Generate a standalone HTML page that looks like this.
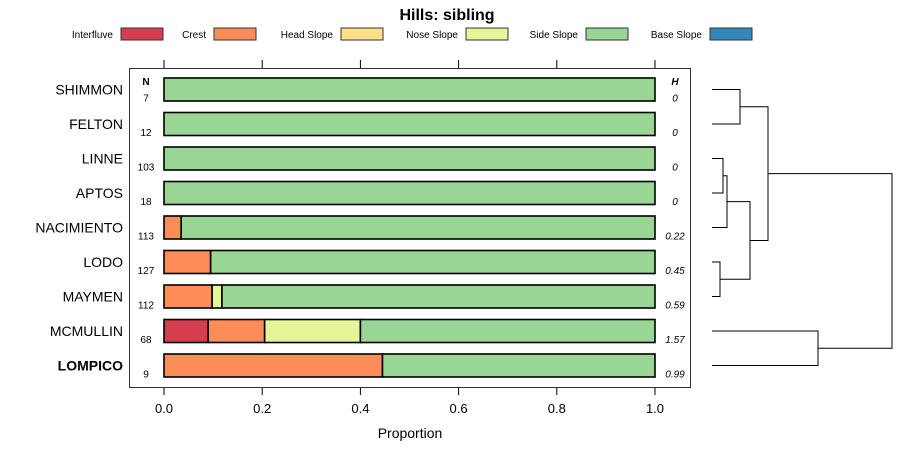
<!DOCTYPE html>
<html><head><meta charset="utf-8"><style>
body{margin:0;background:#fff;font-family:"Liberation Sans",sans-serif}
svg text{font-family:"Liberation Sans",sans-serif}
</style></head><body>
<svg id="c" width="900" height="460" xmlns="http://www.w3.org/2000/svg">
<text x="447" y="20" text-anchor="middle" font-size="16" font-weight="bold">Hills: sibling</text>
<g id="legend"></g>
<rect x="129.5" y="68.5" width="561" height="319" fill="none" stroke="#333"/>
<g id="bars"></g>
<g id="axis"></g>
<text x="410" y="438" text-anchor="middle" font-size="14">Proportion</text>
<text x="146" y="85" text-anchor="middle" font-size="10" font-weight="bold">N</text>
<text x="675" y="85" text-anchor="middle" font-size="10" font-weight="bold" font-style="italic">H</text>
<g id="dendro" stroke="#000" fill="none" stroke-width="1"></g>
</svg>
<script>
const legendNames=["Interfluve","Crest","Head Slope","Nose Slope","Side Slope","Base Slope"];
const colors=["#D53E4F","#FC8D59","#FEE08B","#E6F598","#99D594","#3288BD"];
const hills=["SHIMMON","FELTON","LINNE","APTOS","NACIMIENTO","LODO","MAYMEN","MCMULLIN","LOMPICO"];
const nVals=[7,12,103,18,113,127,112,68,9];
const hVals=["0","0","0","0","0.22","0.45","0.59","1.57","0.99"];
const interfluve=[0,0,0,0,0,0,0,0.09,0];
const crest=[0,0,0,0,0.035,0.095,0.098,0.115,0.445];
const headSlope=[0,0,0,0,0,0,0,0,0];
const noseSlope=[0,0,0,0,0,0,0.02,0.195,0];
const baseSlope=[0,0,0,0,0,0,0,0,0];
const ticks=[0,0.2,0.4,0.6,0.8,1.0];
const tickLabels=["0.0","0.2","0.4","0.6","0.8","1.0"];
const NS="http://www.w3.org/2000/svg";
function mk(t,a,p){const e=document.createElementNS(NS,t);for(const k in a)e.setAttribute(k,a[k]);p.appendChild(e);return e;}
const xs=v=>164+v*491;
const ys=i=>89.5+i*34.5;
// legend
const lg=document.getElementById('legend');
const lx=[163,256,383,508,628,752];
legendNames.forEach((n,i)=>{
 const t=mk('text',{x:lx[i]-50,y:38,'text-anchor':'end','font-size':10},lg);t.textContent=n;
 
 const r=mk('rect',{x:lx[i]-42,y:28,width:42,height:12,fill:colors[i],stroke:'#333'},lg);
 
});
// bars
const bg=document.getElementById('bars');
hills.forEach((h,i)=>{
 const y=ys(i);
 const side=1-interfluve[i]-crest[i]-headSlope[i]-noseSlope[i]-baseSlope[i];
 const vals=[interfluve[i],crest[i],headSlope[i],noseSlope[i],side,baseSlope[i]];
 let acc=0;
 vals.forEach((v,k)=>{ if(v<=0)return;
  const r=mk('rect',{x:xs(acc),y:y-11.5,width:xs(acc+v)-xs(acc),height:23,fill:colors[k],stroke:'#000','stroke-width':1.6},bg);
  
  acc+=v;});
 const l=mk('text',{x:123,y:y+5,'text-anchor':'end','font-size':14,'font-weight':h==='LOMPICO'?'bold':'normal'},bg);l.textContent=h;
 
 const n=mk('text',{x:146,y:y+12,'text-anchor':'middle','font-size':10},bg);n.textContent=nVals[i];
 
 const hv=mk('text',{x:675,y:y+12,'text-anchor':'middle','font-size':10,'font-style':'italic'},bg);hv.textContent=hVals[i];
 
});
// axis
const ax=document.getElementById('axis');
ticks.forEach((t,i)=>{
 mk('line',{x1:xs(t),x2:xs(t),y1:60,y2:68,stroke:'#000'},ax);
 mk('line',{x1:xs(t),x2:xs(t),y1:388,y2:395,stroke:'#000'},ax);
 const tx=mk('text',{x:xs(t),y:413,'text-anchor':'middle','font-size':13},ax);tx.textContent=tickLabels[i];
 
});
// dendrogram
const dg=document.getElementById('dendro');
const L=712;
function link(y1,x1,y2,x2,xm){mk('path',{d:`M${x1},${y1}H${xm}V${y2}H${x2}`},dg);}
const n1y=(ys(0)+ys(1))/2; link(ys(0),L,ys(1),L,740);
const n2y=(ys(2)+ys(3))/2; link(ys(2),L,ys(3),L,723);
const n3y=(n2y+ys(4))/2; link(n2y,723,ys(4),L,727);
const n4y=(ys(5)+ys(6))/2; link(ys(5),L,ys(6),L,720);
const n5y=(n3y+n4y)/2; link(n3y,727,n4y,720,750);
const n6y=(n1y+n5y)/2; link(n1y,740,n5y,750,768);
const n7y=(ys(7)+ys(8))/2; link(ys(7),L,ys(8),L,818);
link(n6y,768,n7y,818,892);
</script>
</body></html>
